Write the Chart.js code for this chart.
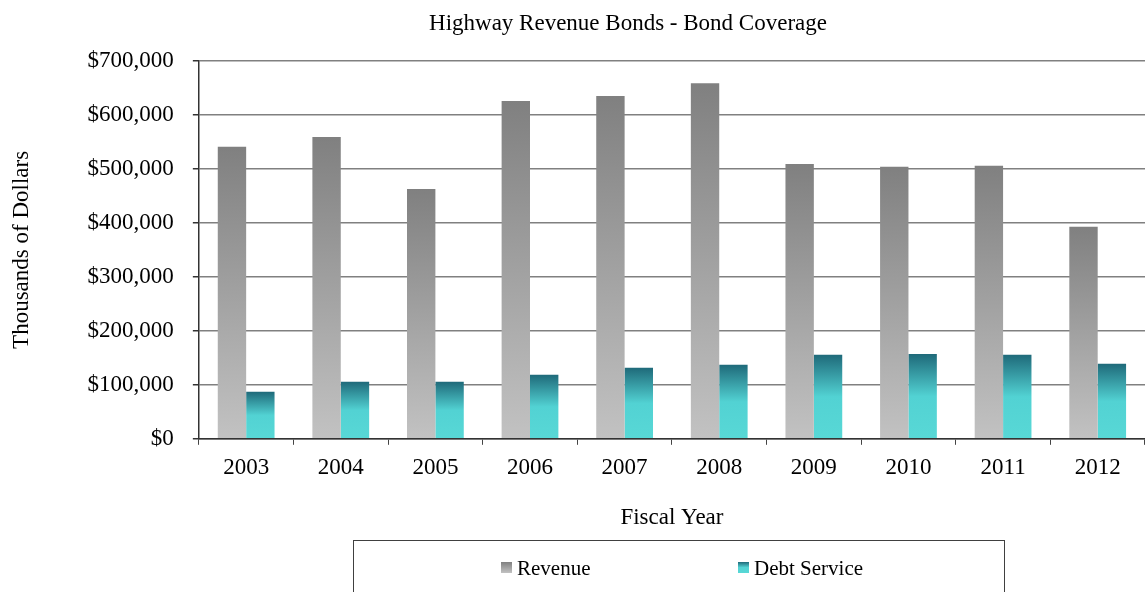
<!DOCTYPE html>
<html><head><meta charset="utf-8">
<script src="https://cdn.jsdelivr.net/npm/chart.js@4/dist/chart.umd.min.js"></script>
<style>html,body{margin:0;padding:0;background:#fff;overflow:hidden}</style>
</head><body>
<canvas id="c" width="1145" height="592" style="width:1145px;height:592px;display:block"></canvas>
<script>
const chartTitle = 'Highway Revenue Bonds - Bond Coverage';
const years = ['2003','2004','2005','2006','2007','2008','2009','2010','2011','2012'];
const revenue = [541000, 559000, 463000, 626000, 635000, 659000, 509000, 504000, 506000, 393000];
const debtService = [87000, 105600, 105600, 118500, 131500, 137000, 155600, 157000, 155600, 139000];
const seriesNames = ['Revenue', 'Debt Service'];
const yMin = 0, yMax = 700000, yStep = 100000;

const FONT = '"Liberation Serif", "Times New Roman", serif';
const FS = 23;
const revStops = [[0,'#808080'],[1,'#c2c2c2']];
const debtStops = [[0,'#1f6a7a'],[0.5,'#52d2d3'],[1,'#58d8d6']];

function barGradient(ctx, stops, fallback){
  const chart = ctx.chart;
  const y = chart.scales && chart.scales.y;
  if (ctx.type !== 'data' || !y || !chart.chartArea) return fallback;
  const top = y.getPixelForValue(ctx.raw);
  const bottom = y.getPixelForValue(0);
  if (!isFinite(top) || !isFinite(bottom) || bottom - top < 1) return fallback;
  const g = chart.ctx.createLinearGradient(0, top, 0, bottom);
  stops.forEach(s => g.addColorStop(s[0], s[1]));
  return g;
}
function swatch(c, x, y, w, h, stops){
  const g = c.createLinearGradient(0, y, 0, y + h);
  stops.forEach(s => g.addColorStop(s[0], s[1]));
  c.fillStyle = g; c.fillRect(x, y, w, h);
}

const decor = {
  id: 'decor',
  afterDraw(chart){
    const c = chart.ctx;
    c.save();
    c.fillStyle = '#000';
    c.font = FS + 'px ' + FONT;
    c.textAlign = 'center'; c.textBaseline = 'alphabetic';
    c.fillText(chartTitle, 628, 30);
    // legend box
    c.strokeStyle = '#404040'; c.lineWidth = 1;
    c.strokeRect(353.5, 540.5, 651, 70);
    const items = [[501, revStops], [738, debtStops]];
    c.font = '21px ' + FONT; c.textAlign = 'left';
    chart.data.datasets.forEach((ds, i) => {
      const x = items[i][0];
      swatch(c, x, 562, 11, 11, items[i][1]);
      c.fillStyle = '#000';
      c.fillText(ds.label, x + 16, 575);
    });
    c.restore();
  }
};

new Chart(document.getElementById('c'), {
  type: 'bar',
  data: {
    labels: years,
    datasets: [
      { label: seriesNames[0], data: revenue,
        backgroundColor: ctx => barGradient(ctx, revStops, '#a0a0a0'),
        categoryPercentage: 0.6, barPercentage: 1.0 },
      { label: seriesNames[1], data: debtService,
        backgroundColor: ctx => barGradient(ctx, debtStops, '#45c0c5'),
        categoryPercentage: 0.6, barPercentage: 1.0 }
    ]
  },
  options: {
    responsive: false,
    animation: false,
    devicePixelRatio: 1,
    layout: { padding: { top: 61, left: 0, right: 0, bottom: 56 } },
    plugins: { legend: { display: false }, title: { display: false }, tooltip: { enabled: false } },
    scales: {
      x: {
        grid: { display: true, drawOnChartArea: false, drawTicks: true, tickLength: 6, color: '#444', offset: true },
        border: { display: true, color: '#333', width: 1.5 },
        ticks: { font: { family: FONT, size: FS }, color: '#000', padding: 9, maxRotation: 0 },
        title: { display: true, text: 'Fiscal Year', color: '#000', font: { family: FONT, size: FS }, padding: { top: 14, bottom: 4 } }
      },
      y: {
        min: yMin, max: yMax,
        ticks: { stepSize: yStep, padding: 19, color: '#000', font: { family: FONT, size: FS },
          callback: v => '$' + Number(v).toLocaleString('en-US') },
        grid: { color: '#808080', lineWidth: 1.5, tickLength: 6, drawTicks: true, tickColor: '#333' },
        border: { display: true, color: '#333', width: 1.5 },
        title: { display: true, text: 'Thousands of Dollars', color: '#000', font: { family: FONT, size: FS }, padding: { top: 8, bottom: 33 } }
      }
    }
  },
  plugins: [decor]
});
</script>
</body></html>
